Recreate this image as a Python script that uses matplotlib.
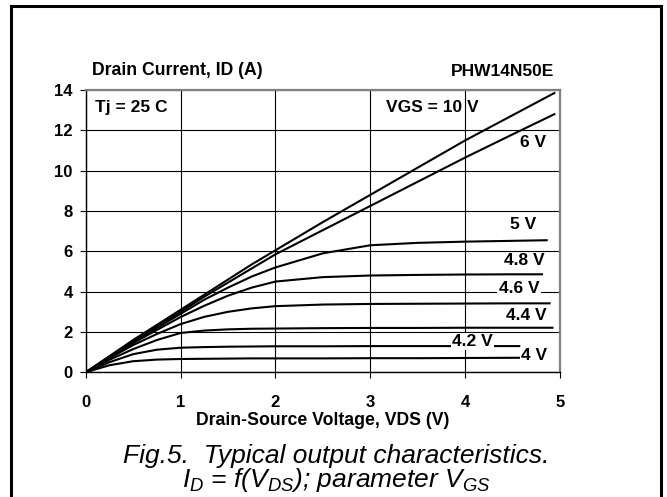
import matplotlib
matplotlib.use('Agg')
import matplotlib.pyplot as plt
from matplotlib.patches import Rectangle

plt.rcParams['font.family'] = ['Liberation Sans', 'DejaVu Sans']
plt.rcParams['mathtext.fontset'] = 'custom'
plt.rcParams['mathtext.it'] = 'Liberation Sans:italic'
plt.rcParams['mathtext.rm'] = 'Liberation Sans:italic'

# drain-source voltage sample points (V)
vds = [0, 0.25, 0.5, 0.75, 1.0, 1.25, 1.5, 1.75, 2.0, 2.5, 3.0, 3.5, 4.0, 4.5]

# drain current (A) per gate voltage; last value is at the curve end
id_10v = [0, 0.8, 1.6, 2.35, 3.1, 3.85, 4.6, 5.35, 6.05, 7.45, 8.8, 10.15, 11.5, 12.75, 13.85]
id_6v = [0, 0.78, 1.55, 2.3, 3.0, 3.75, 4.45, 5.15, 5.85, 7.05, 8.25, 9.45, 10.65, 11.8, 12.8]
id_5v = [0, 0.75, 1.5, 2.2, 2.9, 3.6, 4.2, 4.75, 5.2, 5.9, 6.3, 6.42, 6.48, 6.52, 6.55]
id_4v8 = [0, 0.73, 1.45, 2.1, 2.74, 3.3, 3.8, 4.2, 4.5, 4.72, 4.8, 4.83, 4.85, 4.86, 4.86]
id_4v6 = [0, 0.7, 1.35, 1.9, 2.39, 2.75, 3.0, 3.17, 3.28, 3.36, 3.39, 3.4, 3.41, 3.42, 3.42]
id_4v4 = [0, 0.62, 1.15, 1.6, 1.95, 2.07, 2.13, 2.16, 2.17, 2.19, 2.2, 2.2, 2.21, 2.21, 2.21]
id_4v2 = [0, 0.5, 0.9, 1.12, 1.22, 1.25, 1.27, 1.28, 1.29, 1.29, 1.3, 1.3, 1.3, 1.3, 1.3]
id_4v = [0, 0.35, 0.55, 0.63, 0.66, 0.67, 0.68, 0.69, 0.69, 0.69, 0.7, 0.7, 0.71, 0.72, 0.72]

curve_ends = [4.94, 4.94, 4.86, 4.81, 4.89, 4.92, 4.57, 4.57]
curves = [id_10v, id_6v, id_5v, id_4v8, id_4v6, id_4v4, id_4v2, id_4v]

# label text, x (right edge), y (baseline), white box
labels = [('6 V', 4.856, 11.18, False),
          ('5 V', 4.75, 7.09, False),
          ('4.8 V', 4.835, 5.32, False),
          ('4.6 V', 4.78, 3.95, True),
          ('4.4 V', 4.856, 2.59, False),
          ('4.2 V', 4.29, 1.30, True),
          ('4 V', 4.866, 0.61, True)]

fig = plt.figure(figsize=(6.67, 4.97), dpi=100)
ax = fig.add_axes([0.1285, 0.2509, 0.7111, 0.568])

for ys, xend in zip(curves, curve_ends):
    ax.plot(vds + [xend], ys, color='black', lw=1.5, zorder=3)

ax.set_xlim(0, 5)
ax.set_ylim(0, 14)
ax.set_xticks([0, 1, 2, 3, 4, 5])
ax.set_yticks([0, 2, 4, 6, 8, 10, 12, 14])
ax.grid(True, color='black', lw=0.8)
ax.tick_params(direction='out', length=4.5, width=0.8, colors='black',
               labelsize=12)
ax.tick_params(axis='x', pad=12)
ax.tick_params(axis='y', pad=5)
for lab in ax.get_xticklabels() + ax.get_yticklabels():
    lab.set_fontweight('bold')
ax.spines['left'].set_color('black')
ax.spines['bottom'].set_color('black')
ax.spines['left'].set_linewidth(1)
ax.spines['bottom'].set_linewidth(1)
for s in ['top', 'right']:
    ax.spines[s].set_color('#808080')
    ax.spines[s].set_linewidth(1.6)

ax.set_xlabel('Drain-Source Voltage, VDS (V)', fontsize=12.7, fontweight='bold',
              labelpad=1)
ax.text(0.013, 1.053, 'Drain Current, ID (A)', transform=ax.transAxes,
        fontsize=12.7, fontweight='bold', va='baseline', ha='left')
ax.text(0.987, 1.05, 'PHW14N50E', transform=ax.transAxes,
        fontsize=12.5, fontweight='bold', va='baseline', ha='right')
ax.text(0.1, 12.9, 'Tj = 25 C', fontsize=12.5, fontweight='bold', va='baseline')
ax.text(3.17, 12.93, 'VGS = 10 V', fontsize=12.5, fontweight='bold',
        va='baseline', zorder=4)

for txt, x, y, box in labels:
    kw = {}
    if box:
        kw['bbox'] = dict(fc='white', ec='none', pad=1)
    ax.text(x, y, txt, fontsize=12.5, fontweight='bold', ha='right',
            va='baseline', zorder=5, **kw)

fig.text(0.5045, 1 - 462.7 / 497, 'Fig.5.  Typical output characteristics.',
         fontsize=19, style='italic', ha='center', va='baseline')
fig.text(0.5045, 1 - 487 / 497,
         r'$I_D$ = f($V_{DS}$); parameter $V_{GS}$',
         fontsize=19, style='italic', ha='center', va='baseline')

fig.add_artist(Rectangle((0.0165, -0.05), 0.9745, 1.038, transform=fig.transFigure,
                         fill=False, ec='black', lw=2.2, clip_on=False))

fig.savefig('out.png', dpi=100)
